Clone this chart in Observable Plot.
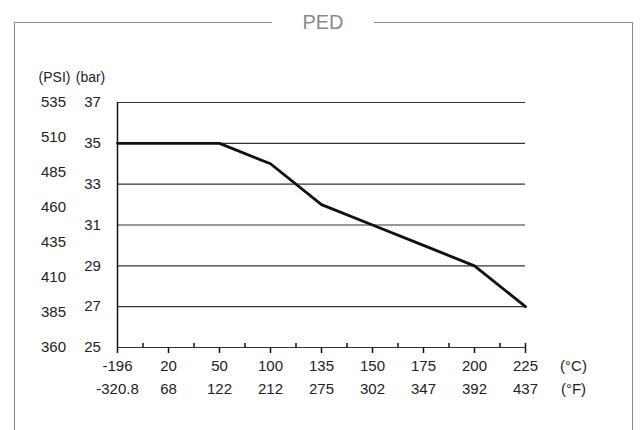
<!DOCTYPE html>
<html>
<head>
<meta charset="utf-8">
<script src="https://cdn.jsdelivr.net/npm/d3@7"></script>
<script src="https://cdn.jsdelivr.net/npm/@observablehq/plot@0.6"></script>
<style>
  html, body { margin: 0; padding: 0; background: #fff; }
  #wrap { position: relative; width: 643px; height: 430px; overflow: hidden; font-family: "Liberation Sans", Arial, sans-serif; }
  #frame { position: absolute; left: 14px; top: 22px; width: 619px; height: 460px; border: 1px solid #8c8c8c; box-sizing: border-box; }
  #title { position: absolute; left: 0; width: 646px; top: 11px; text-align: center; font-size: 20px; color: #8a8a8a; line-height: 22px; }
  #title span { background: #fff; padding: 0 30px; }
  #chart { position: absolute; left: 0; top: 0; }
</style>
</head>
<body>
<div id="wrap">
  <div id="frame"></div>
  <div id="title"><span>PED</span></div>
  <div id="chart"></div>
</div>
<script>
// Data
const celsiusLabels = ["-196", "20", "50", "100", "135", "150", "175", "200", "225"];
const fahrenheitLabels = ["-320.8", "68", "122", "212", "275", "302", "347", "392", "437"];
const pressureBar = [35, 35, 35, 34, 32, 31, 30, 29, 27];
const barTicks = [25, 27, 29, 31, 33, 35, 37];
const psiTicks = [360, 385, 410, 435, 460, 485, 510, 535];

const idx = celsiusLabels.map((_, i) => i);
const minorIdx = idx.slice(0, -1).map(i => i + 0.5);
const lineData = idx.map(i => ({i, bar: pressureBar[i]}));
// PSI labels placed on the bar scale (360 psi ↔ 25 bar, 535 psi ↔ 37 bar)
const psiToBar = p => 25 + (p - 360) * (37 - 25) / (535 - 360);

const ink = "#222";
const fs = 15;

const chart = Plot.plot({
  width: 643,
  height: 430,
  marginLeft: 117,
  marginRight: 118,
  marginTop: 102,
  marginBottom: 83,
  style: {background: "transparent", fontFamily: "'Liberation Sans', Arial, sans-serif", fontSize: fs + "px", color: ink, overflow: "visible"},
  x: {type: "linear", domain: [0, idx.length - 1], axis: null},
  y: {type: "linear", domain: [barTicks[0], barTicks[barTicks.length - 1]], axis: null},
  marks: [
    // horizontal gridlines (incl. bottom axis line)
    Plot.ruleY(barTicks, {y: d => d, x1: 0, x2: idx.length - 1, stroke: "#333", strokeWidth: 1.2}),
    // left axis line
    Plot.ruleX([0], {x: d => d, y1: barTicks[0], y2: barTicks[barTicks.length - 1], stroke: "#111", strokeWidth: 1.5}),
    // major ticks (downward)
    Plot.ruleX(idx, {x: d => d, y1: barTicks[0], y2: barTicks[0], insetBottom: -6, insetTop: 0, stroke: "#111", strokeWidth: 1.5}),
    // minor ticks (upward)
    Plot.ruleX(minorIdx, {x: d => d, y1: barTicks[0], y2: barTicks[0], insetTop: -4, insetBottom: 0, stroke: "#111", strokeWidth: 1.5}),
    Plot.ruleX([idx.length - 1], {x: d => d, y1: barTicks[0], y2: barTicks[0], insetTop: -4, insetBottom: 0, stroke: "#111", strokeWidth: 1.5}),
    // pressure line
    Plot.line(lineData, {x: "i", y: "bar", stroke: "#111", strokeWidth: 2.8, strokeLinejoin: "round"}),
    // x labels
    Plot.text(idx, {x: d => d, y: () => barTicks[0], text: d => celsiusLabels[d], dy: 19, fill: ink, fontSize: fs}),
    Plot.text(idx, {x: d => d, y: () => barTicks[0], text: d => fahrenheitLabels[d], dy: 42, fill: ink, fontSize: fs}),
    Plot.text(["(°C)"], {x: () => idx.length, y: () => barTicks[0], text: d => d, dy: 19, dx: -3, fill: ink, fontSize: fs}),
    Plot.text(["(°F)"], {x: () => idx.length, y: () => barTicks[0], text: d => d, dy: 42, dx: -3, fill: ink, fontSize: fs}),
    // y labels
    Plot.text(barTicks, {x: () => 0, y: d => d, text: d => String(d), dx: -25, fill: ink, fontSize: fs}),
    Plot.text(psiTicks, {x: () => 0, y: d => psiToBar(d), text: d => String(d), dx: -64, fill: ink, fontSize: fs}),
    Plot.text(["(PSI)"], {x: () => 0, y: () => barTicks[barTicks.length - 1], text: d => d, dx: -63, dy: -25, fill: ink, fontSize: 14}),
    Plot.text(["(bar)"], {x: () => 0, y: () => barTicks[barTicks.length - 1], text: d => d, dx: -27, dy: -25, fill: ink, fontSize: 14})
  ]
});
document.getElementById("chart").appendChild(chart);
</script>
</body>
</html>
